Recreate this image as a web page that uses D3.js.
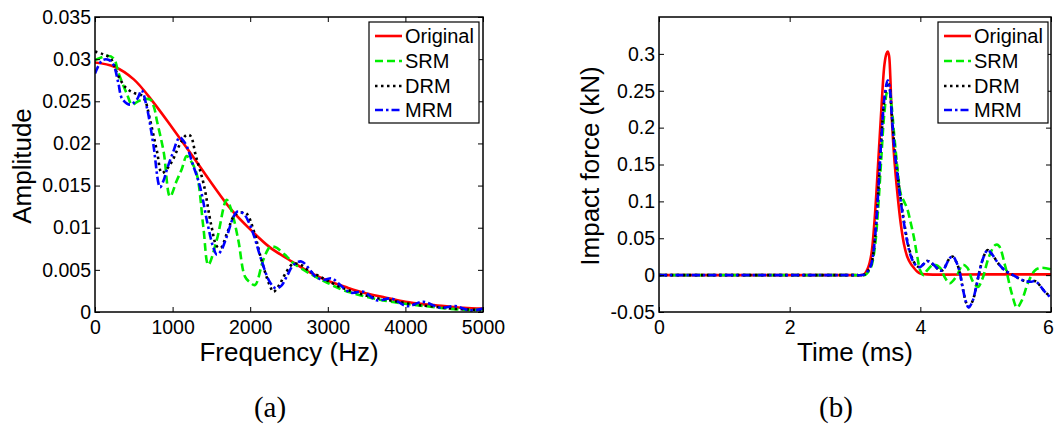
<!DOCTYPE html>
<html>
<head>
<meta charset="utf-8">
<script src="https://cdn.jsdelivr.net/npm/d3@7"></script>
<style>
  html, body { margin: 0; padding: 0; background: #fff; }
  svg { display: block; }
  .axis text { font-family: "Liberation Sans", Arial, sans-serif; font-size: 19.5px; fill: #000; }
  .axis path, .axis line { stroke: #000; }
</style>
</head>
<body>
<svg id="chart" width="1055" height="425"></svg>
<script>
// ---- data ----
// (a) amplitude spectra, [frequency Hz, amplitude]
const spectrumOriginal = [
  [0, 0.0296], [250, 0.0291], [500, 0.0276], [750, 0.0249], [1000, 0.0218],
  [1250, 0.0186], [1500, 0.0153], [1750, 0.0122], [2000, 0.0098], [2250, 0.0077],
  [2500, 0.0062], [2750, 0.0048], [3000, 0.0037], [3250, 0.0029], [3500, 0.0022],
  [3750, 0.0017], [4000, 0.0012], [4250, 0.0009], [4500, 0.0007], [4750, 0.0005],
  [5000, 0.0004]
];
const spectrumSRM = [
  [0, 0.0299], [80, 0.0302], [155, 0.0304], [240, 0.0301], [305, 0.0283],
  [410, 0.0259], [477, 0.0246], [540, 0.0249], [606, 0.0252], [713, 0.0252],
  [760, 0.0243], [800, 0.0226], [885, 0.0190], [967, 0.0137], [1050, 0.0155],
  [1120, 0.0170], [1181, 0.0185], [1230, 0.0180], [1310, 0.0164], [1396, 0.0101],
  [1460, 0.0056], [1568, 0.0085], [1697, 0.0133], [1760, 0.0120], [1847, 0.0085],
  [1933, 0.0042], [2000, 0.0035], [2062, 0.0032], [2169, 0.0062], [2255, 0.0077],
  [2320, 0.0077], [2470, 0.0066], [2556, 0.0058], [2760, 0.0046], [2986, 0.0035],
  [3200, 0.0026], [3415, 0.0020], [3700, 0.0014], [3973, 0.0010], [4250, 0.0007],
  [4489, 0.00045], [4700, 0.0003], [4875, 0.00024], [5000, 0.0003]
];
const spectrumDRM = [
  [0, 0.0309], [100, 0.0306], [200, 0.0301], [300, 0.0280], [400, 0.0266],
  [500, 0.0260], [600, 0.0257], [650, 0.0250], [700, 0.0232], [800, 0.0190],
  [860, 0.0165], [930, 0.0170], [1000, 0.0180], [1100, 0.0200], [1180, 0.0210],
  [1230, 0.0209], [1300, 0.0185], [1400, 0.0152], [1500, 0.0102], [1570, 0.0078],
  [1620, 0.0076], [1700, 0.0093], [1800, 0.0115], [1900, 0.0118], [1960, 0.0116],
  [2050, 0.0095], [2150, 0.0060], [2250, 0.0032], [2300, 0.0024], [2380, 0.0033],
  [2450, 0.0045], [2550, 0.0057], [2650, 0.0056], [2770, 0.0048], [2900, 0.0042],
  [3000, 0.0037], [3200, 0.0028], [3400, 0.0022], [3600, 0.0017], [3850, 0.0013],
  [4100, 0.0009], [4300, 0.0007], [4600, 0.0004], [4800, 0.0003], [5000, 0.0002]
];
const spectrumMRM = [
  [0, 0.0283], [50, 0.0293], [100, 0.0299], [180, 0.0299], [240, 0.0293],
  [300, 0.0272], [350, 0.0253], [450, 0.0246], [540, 0.0252], [600, 0.0263],
  [665, 0.0244], [750, 0.0200], [838, 0.0148], [880, 0.0155], [930, 0.0170],
  [1000, 0.0188], [1090, 0.0207], [1140, 0.0203], [1190, 0.0195], [1250, 0.0178],
  [1350, 0.0150], [1450, 0.0105], [1520, 0.0078], [1570, 0.0068], [1620, 0.0072],
  [1700, 0.0090], [1780, 0.0112], [1830, 0.0119], [1910, 0.0117], [1980, 0.0107],
  [2050, 0.0090], [2150, 0.0060], [2250, 0.0036], [2330, 0.0028], [2400, 0.0031],
  [2470, 0.0042], [2560, 0.0056], [2660, 0.0060], [2770, 0.0050], [2840, 0.0042],
  [2950, 0.0038], [3050, 0.0040], [3160, 0.0032], [3290, 0.0023], [3460, 0.0024],
  [3630, 0.0014], [3820, 0.0016], [4020, 0.0007], [4230, 0.0012], [4450, 0.0005],
  [4640, 0.0007], [4830, 0.0002], [5000, 0.0004]
];

// (b) impact force histories, [time ms, force kN]
const forceOriginal = [
  [0, 0], [3.0, 0], [3.1, 0], [3.15, 0.002], [3.2, 0.01], [3.25, 0.028],
  [3.3, 0.075], [3.35, 0.145], [3.4, 0.22], [3.45, 0.285], [3.48, 0.300],
  [3.5, 0.303], [3.52, 0.298], [3.54, 0.27], [3.56, 0.22], [3.6, 0.16],
  [3.65, 0.11], [3.7, 0.07], [3.75, 0.042], [3.8, 0.025], [3.85, 0.016],
  [3.9, 0.01], [3.95, 0.005], [4.0, 0.002], [4.1, 0.001], [5.0, 0.001], [6.0, 0.001]
];
const forceSRM = [
  [0, 0], [3.0, 0], [3.15, 0], [3.2, 0.004], [3.25, 0.012], [3.3, 0.035],
  [3.35, 0.085], [3.4, 0.155], [3.45, 0.22], [3.5, 0.25], [3.53, 0.248],
  [3.56, 0.23], [3.6, 0.19], [3.65, 0.145], [3.7, 0.11], [3.75, 0.1],
  [3.8, 0.09], [3.85, 0.072], [3.9, 0.052], [3.95, 0.027], [4.0, 0.006],
  [4.05, 0.0], [4.1, 0.006], [4.2, 0.014], [4.3, 0.01], [4.38, -0.004],
  [4.45, -0.011], [4.55, -0.002], [4.65, 0.014], [4.72, 0.01], [4.8, -0.008],
  [4.88, -0.016], [4.95, -0.005], [5.05, 0.025], [5.15, 0.041], [5.2, 0.04],
  [5.3, 0.012], [5.4, -0.025], [5.48, -0.044], [5.55, -0.035], [5.65, -0.01],
  [5.75, 0.006], [5.85, 0.01], [6.0, 0.008]
];
const forceDRM = [
  [0, 0], [3.0, 0], [3.1, 0], [3.15, 0.001], [3.2, 0.006], [3.25, 0.015],
  [3.3, 0.045], [3.35, 0.105], [3.4, 0.18], [3.45, 0.238], [3.5, 0.261],
  [3.53, 0.254], [3.56, 0.222], [3.6, 0.178], [3.65, 0.138], [3.7, 0.103],
  [3.75, 0.073], [3.8, 0.047], [3.85, 0.029], [3.9, 0.018], [3.95, 0.012],
  [4.0, 0.011], [4.05, 0.015], [4.1, 0.019], [4.15, 0.018], [4.2, 0.014],
  [4.25, 0.01], [4.3, 0.006], [4.35, 0.007], [4.4, 0.015], [4.45, 0.023],
  [4.5, 0.025], [4.55, 0.018], [4.6, 0.005], [4.65, -0.018], [4.7, -0.037],
  [4.74, -0.043], [4.8, -0.035], [4.85, -0.018], [4.9, 0.003], [4.95, 0.02],
  [5.0, 0.031], [5.03, 0.034], [5.1, 0.028], [5.2, 0.015], [5.3, 0.006],
  [5.4, 0.001], [5.5, -0.004], [5.6, -0.008], [5.7, -0.009], [5.75, -0.008],
  [5.8, -0.011], [5.9, -0.022], [6.0, -0.030]
];
const forceMRM = [
  [0, 0], [3.0, 0], [3.1, 0], [3.15, 0.001], [3.2, 0.006], [3.25, 0.015],
  [3.3, 0.045], [3.35, 0.105], [3.4, 0.18], [3.45, 0.24], [3.5, 0.264],
  [3.53, 0.255], [3.56, 0.22], [3.6, 0.175], [3.65, 0.135], [3.7, 0.1],
  [3.75, 0.07], [3.8, 0.045], [3.85, 0.027], [3.9, 0.017], [3.95, 0.012],
  [4.0, 0.011], [4.05, 0.015], [4.1, 0.019], [4.15, 0.018], [4.2, 0.0145],
  [4.25, 0.01], [4.3, 0.006], [4.35, 0.007], [4.4, 0.015], [4.45, 0.023],
  [4.5, 0.025], [4.55, 0.018], [4.6, 0.005], [4.65, -0.018], [4.7, -0.037],
  [4.74, -0.044], [4.8, -0.035], [4.85, -0.018], [4.9, 0.003], [4.95, 0.02],
  [5.0, 0.031], [5.03, 0.034], [5.1, 0.028], [5.2, 0.015], [5.3, 0.006],
  [5.4, 0.001], [5.5, -0.004], [5.6, -0.008], [5.7, -0.009], [5.75, -0.008],
  [5.8, -0.011], [5.9, -0.022], [6.0, -0.031]
];

const legendLabels = ['Original', 'SRM', 'DRM', 'MRM'];
const freqTicks = [0, 1000, 2000, 3000, 4000, 5000];
const ampTicks = [0, 0.005, 0.01, 0.015, 0.02, 0.025, 0.03, 0.035];
const timeTicks = [0, 2, 4, 6];
const forceTicks = [-0.05, 0, 0.05, 0.1, 0.15, 0.2, 0.25, 0.3];

// line styles, same order as legendLabels
const styles = [
  { color: '#ff0000', dash: null },
  { color: '#00ee00', dash: '8,4' },
  { color: '#000000', dash: '2.5,3.5' },
  { color: '#0000ff', dash: '8,3,2.5,3' }
];

const FONT = '"Liberation Sans", Arial, sans-serif';
const svg = d3.select('#chart');

const fmt = d => String(+d.toFixed(3));

function drawPanel(opts) {
  const { left, right, top, bottom } = opts.box;
  const x = d3.scaleLinear().domain(opts.xDomain).range([left, right]);
  const y = d3.scaleLinear().domain(opts.yDomain).range([bottom, top]);

  const g = svg.append('g');
  const clipId = 'clip-' + opts.id;
  g.append('clipPath').attr('id', clipId)
    .append('rect')
    .attr('x', left).attr('y', top)
    .attr('width', right - left).attr('height', bottom - top);

  // curves
  const line = d3.line()
    .x(d => x(d[0]))
    .y(d => y(d[1]))
    .curve(d3.curveCatmullRom.alpha(0.5));

  const curves = g.append('g').attr('clip-path', `url(#${clipId})`);
  opts.series.forEach((s, i) => {
    curves.append('path')
      .datum(s)
      .attr('d', line)
      .attr('fill', 'none')
      .attr('stroke', styles[i].color)
      .attr('stroke-width', 2.6)
      .attr('stroke-dasharray', styles[i].dash);
  });

  // axes with inward ticks on all four sides
  const ax = g.append('g').attr('class', 'axis');
  const bottomAxis = ax.append('g')
    .attr('transform', `translate(0,${bottom})`)
    .call(d3.axisBottom(x).tickValues(opts.xTicks).tickFormat(fmt)
      .tickSizeInner(-5).tickSizeOuter(0).tickPadding(8));
  ax.append('g')
    .attr('transform', `translate(0,${top})`)
    .call(d3.axisTop(x).tickValues(opts.xTicks).tickFormat('')
      .tickSizeInner(-5).tickSizeOuter(0));
  ax.append('g')
    .attr('transform', `translate(${left},0)`)
    .call(d3.axisLeft(y).tickValues(opts.yTicks).tickFormat(fmt)
      .tickSizeInner(-5).tickSizeOuter(0).tickPadding(4));
  ax.append('g')
    .attr('transform', `translate(${right},0)`)
    .call(d3.axisRight(y).tickValues(opts.yTicks).tickFormat('')
      .tickSizeInner(-5).tickSizeOuter(0));
  ax.selectAll('.domain').remove();
  ax.selectAll('line').attr('stroke-width', 1);

  // keep the last x label inside the page edge
  if (opts.lastLabelShift) {
    bottomAxis.selectAll('.tick:last-of-type text').attr('dx', opts.lastLabelShift);
  }

  g.append('rect')
    .attr('x', left).attr('y', top)
    .attr('width', right - left).attr('height', bottom - top)
    .attr('fill', 'none').attr('stroke', '#000').attr('stroke-width', 1.5);

  // axis titles
  g.append('text')
    .attr('x', (left + right) / 2).attr('y', 361)
    .attr('text-anchor', 'middle')
    .style('font-family', FONT).style('font-size', '26px')
    .text(opts.xLabel);
  g.append('text')
    .attr('transform', `translate(${opts.yLabelX},166) rotate(-90)`)
    .attr('text-anchor', 'middle')
    .style('font-family', FONT).style('font-size', '26px')
    .text(opts.yLabel);

  // legend
  const lg = g.append('g');
  lg.append('rect')
    .attr('x', opts.legendX).attr('y', 22)
    .attr('width', 110).attr('height', 101)
    .attr('fill', '#fff').attr('stroke', '#000').attr('stroke-width', 1.2);
  const rowY = [36, 61, 86, 110];
  legendLabels.forEach((lab, i) => {
    lg.append('line')
      .attr('x1', opts.legendX + 6).attr('x2', opts.legendX + 33)
      .attr('y1', rowY[i]).attr('y2', rowY[i])
      .attr('stroke', styles[i].color)
      .attr('stroke-width', 2.6)
      .attr('stroke-dasharray', styles[i].dash);
    lg.append('text')
      .attr('x', opts.legendX + 36).attr('y', rowY[i])
      .attr('dy', '0.36em')
      .style('font-family', FONT).style('font-size', '20px')
      .text(lab);
  });

  // panel caption
  svg.append('text')
    .attr('x', (left + right) / 2 - 19).attr('y', 417)
    .attr('text-anchor', 'middle')
    .style('font-family', '"Liberation Serif", "Times New Roman", serif')
    .style('font-size', '29px')
    .text(opts.caption);
}

drawPanel({
  id: 'a',
  box: { left: 95, right: 483, top: 17, bottom: 312 },
  xDomain: [0, 5000], yDomain: [0, 0.035],
  xTicks: freqTicks, yTicks: ampTicks,
  series: [spectrumOriginal, spectrumSRM, spectrumDRM, spectrumMRM],
  xLabel: 'Frequency (Hz)', yLabel: 'Amplitude', yLabelX: 31,
  legendX: 369, caption: '(a)'
});

drawPanel({
  id: 'b',
  box: { left: 659, right: 1051, top: 17, bottom: 312 },
  xDomain: [0, 6], yDomain: [-0.05, 0.35],
  xTicks: timeTicks, yTicks: forceTicks,
  series: [forceOriginal, forceSRM, forceDRM, forceMRM],
  xLabel: 'Time (ms)', yLabel: 'Impact force (kN)', yLabelX: 599,
  legendX: 938, caption: '(b)', lastLabelShift: -3
});
</script>
</body>
</html>
